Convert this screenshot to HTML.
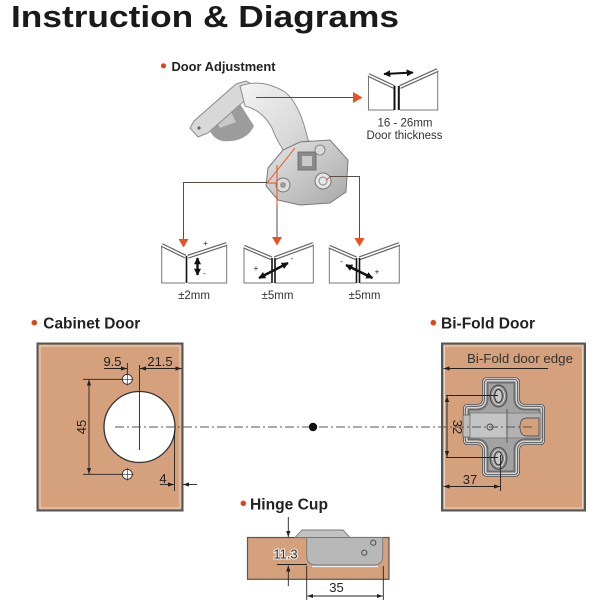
<!DOCTYPE html>
<html>
<head>
<meta charset="utf-8">
<style>
html,body{margin:0;padding:0;background:#fff;}
body{width:600px;height:600px;overflow:hidden;}
svg{display:block;font-family:"Liberation Sans",Arial,sans-serif;}
</style>
</head>
<body>
<svg width="600" height="600" viewBox="0 0 600 600" xmlns="http://www.w3.org/2000/svg">
<defs>
  <marker id="a" viewBox="0 0 10 10" refX="10" refY="5" markerWidth="6" markerHeight="6" markerUnits="userSpaceOnUse" orient="auto-start-reverse">
    <path d="M0,1.5 L10,5 L0,8.5 Z" fill="#222"/>
  </marker>
  <marker id="b" viewBox="0 0 10 10" refX="9" refY="5" markerWidth="7" markerHeight="7" markerUnits="userSpaceOnUse" orient="auto-start-reverse">
    <path d="M0,0 L10,5 L0,10 Z" fill="#111"/>
  </marker>
  <linearGradient id="m1" x1="0" y1="0" x2="1" y2="1">
    <stop offset="0" stop-color="#f4f4f4"/>
    <stop offset="0.5" stop-color="#d8d8d8"/>
    <stop offset="1" stop-color="#a4a4a4"/>
  </linearGradient>
  <linearGradient id="m2" x1="0" y1="0" x2="1" y2="1">
    <stop offset="0" stop-color="#e6e6e6"/>
    <stop offset="1" stop-color="#a8a8a8"/>
  </linearGradient>
  <path id="cross" d="M488,377 H514 Q520,377 520,383 V399 Q520,404 525,404 H540 Q545,404 545,409 V440 Q545,445 540,445 H525 Q520,445 520,450 V471 Q520,477 514,477 H488 Q482,477 482,471 V450 Q482,445 477,445 H468 Q463,445 463,440 V409 Q463,404 468,404 H477 Q482,404 482,399 V383 Q482,377 488,377 Z"/>
  <clipPath id="cc"><use href="#cross"/></clipPath>
</defs>

<!-- Title -->
<text x="11" y="27" font-size="31" font-weight="bold" fill="#1a1a1a" textLength="388" lengthAdjust="spacingAndGlyphs">Instruction &amp; Diagrams</text>

<!-- Door Adjustment header -->
<circle cx="163.5" cy="65.8" r="2.6" fill="#e0461a"/>
<text x="171.5" y="71" font-size="13" font-weight="bold" fill="#222" textLength="104" lengthAdjust="spacingAndGlyphs">Door Adjustment</text>

<!-- Hinge photo approximation -->
<g>
  <path d="M208,112 Q215,100 240,104 L254,126 Q246,143 222,141 Q205,136 208,112 Z" fill="#9c9c9c"/>
  <path d="M212,114 L230,110 L236,122 L220,128 Z" fill="#c8c8c8"/>
  <polygon points="190,128 194,121 236,84 246,81 255,86 251,95 208,133 198,137" fill="#d8d8d8" stroke="#8c8c8c" stroke-width="1"/>
  <circle cx="199" cy="128" r="1.6" fill="#666"/>
  <circle cx="245" cy="87" r="1.6" fill="#666"/>
  <circle cx="252" cy="98" r="3.5" fill="#bdbdbd" stroke="#777" stroke-width="0.8"/>
  <path d="M240,86 Q262,78 285,92 Q300,104 308,140 L345,165 L338,188 L300,170 Q280,150 272,128 Q262,110 245,106 Z" fill="url(#m1)" stroke="#8c8c8c" stroke-width="1"/>
  <path d="M268,168 L283,150 L300,142 L330,140 L348,160 L346,192 L330,203 L300,205 L278,200 L266,186 Z" fill="url(#m2)" stroke="#7a7a7a" stroke-width="1"/>
  <rect x="298" y="152" width="18" height="18" fill="#8a8a8a" stroke="#666" stroke-width="0.8"/>
  <rect x="302" y="156" width="10" height="10" fill="#c9c9c9"/>
  <circle cx="323" cy="181" r="8" fill="#e6e6e6" stroke="#777" stroke-width="1"/>
  <circle cx="323" cy="181" r="4" fill="none" stroke="#888" stroke-width="1"/>
  <circle cx="320" cy="150" r="5" fill="#dadada" stroke="#777" stroke-width="0.8"/>
  <circle cx="283" cy="185" r="7" fill="#dcdcdc" stroke="#777" stroke-width="1"/>
  <circle cx="283" cy="185" r="3" fill="#9a9a9a"/>
  <g stroke="#e2531f" stroke-width="1" fill="none">
    <line x1="295" y1="148" x2="267" y2="183"/>
    <line x1="267" y1="183" x2="277" y2="183"/>
    <line x1="277" y1="165" x2="277" y2="205"/>
    <line x1="330" y1="177" x2="326" y2="180"/>
  </g>
</g>

<!-- connectors -->
<g stroke="#5b4b45" stroke-width="1" fill="none">
  <line x1="256" y1="97.5" x2="354" y2="97.5"/>
  <polyline points="267,182.5 183.5,182.5 183.5,239"/>
  <line x1="277" y1="205" x2="277" y2="237"/>
  <polyline points="330,176.5 359.5,176.5 359.5,238"/>
</g>
<polygon points="353,92 362.5,97.5 353,103" fill="#f04e1e"/>
<polygon points="178.5,239 188.5,239 183.5,247.5" fill="#f04e1e"/>
<polygon points="272,237 282,237 277,245.5" fill="#f04e1e"/>
<polygon points="354.5,238 364.5,238 359.5,246.5" fill="#f04e1e"/>

<!-- door thickness icon -->
<g fill="none">
  <polyline points="368.5,75 368.5,110 394,110" stroke="#777" stroke-width="1"/>
  <polyline points="400,110 437.7,110 437.7,70" stroke="#777" stroke-width="1"/>
  <line x1="368.5" y1="75" x2="394" y2="87" stroke="#666" stroke-width="4"/>
  <line x1="368.5" y1="75" x2="394" y2="87" stroke="#fff" stroke-width="1.6"/>
  <line x1="400" y1="87" x2="437.7" y2="70" stroke="#666" stroke-width="4"/>
  <line x1="400" y1="87" x2="437.7" y2="70" stroke="#fff" stroke-width="1.6"/>
  <line x1="394.5" y1="86" x2="394.5" y2="110" stroke="#111" stroke-width="2"/>
  <line x1="398.8" y1="86" x2="398.8" y2="110" stroke="#111" stroke-width="2"/>
  <line x1="384" y1="74" x2="413" y2="72.5" stroke="#111" stroke-width="2" marker-start="url(#b)" marker-end="url(#b)"/>
</g>
<text x="405" y="126.7" font-size="11.5" fill="#333" text-anchor="middle">16 - 26mm</text>
<text x="404.5" y="139" font-size="11.5" fill="#333" text-anchor="middle">Door thickness</text>

<!-- icon 1 -->
<g fill="none">
  <polyline points="161.7,245 161.7,283 185,283" stroke="#777" stroke-width="1"/>
  <polyline points="188,283 226.7,283 226.7,244" stroke="#777" stroke-width="1"/>
  <line x1="161.7" y1="245" x2="185.5" y2="256.7" stroke="#666" stroke-width="4"/>
  <line x1="161.7" y1="245" x2="185.5" y2="256.7" stroke="#fff" stroke-width="1.6"/>
  <line x1="188" y1="256.7" x2="226.7" y2="244" stroke="#666" stroke-width="4"/>
  <line x1="188" y1="256.7" x2="226.7" y2="244" stroke="#fff" stroke-width="1.6"/>
  <line x1="186.5" y1="256" x2="186.5" y2="283" stroke="#111" stroke-width="1.6"/>
  <line x1="197.5" y1="258" x2="197.5" y2="275" stroke="#111" stroke-width="2.4" marker-start="url(#b)" marker-end="url(#b)"/>
</g>
<text x="205.5" y="246" font-size="8" fill="#222" text-anchor="middle">+</text>
<text x="204.5" y="276" font-size="8" fill="#222" text-anchor="middle">-</text>
<text x="194" y="299" font-size="11.5" fill="#333" text-anchor="middle">±2mm</text>

<!-- icon 2 -->
<g fill="none">
  <polyline points="244,246.7 244,283 271,283" stroke="#777" stroke-width="1"/>
  <polyline points="275,283 313.3,283 313.3,244" stroke="#777" stroke-width="1"/>
  <line x1="244" y1="246.7" x2="271.5" y2="258.3" stroke="#666" stroke-width="4"/>
  <line x1="244" y1="246.7" x2="271.5" y2="258.3" stroke="#fff" stroke-width="1.6"/>
  <line x1="274.5" y1="258.3" x2="313.3" y2="244" stroke="#666" stroke-width="4"/>
  <line x1="274.5" y1="258.3" x2="313.3" y2="244" stroke="#fff" stroke-width="1.6"/>
  <line x1="272" y1="258" x2="272" y2="283" stroke="#111" stroke-width="1.6"/>
  <line x1="275" y1="258" x2="275" y2="283" stroke="#111" stroke-width="1.6"/>
  <line x1="259" y1="278" x2="288" y2="263" stroke="#111" stroke-width="2.4" marker-start="url(#b)" marker-end="url(#b)"/>
</g>
<text x="256" y="271" font-size="8" fill="#222" text-anchor="middle">+</text>
<text x="292" y="261" font-size="8" fill="#222" text-anchor="middle">-</text>
<text x="277.5" y="299" font-size="11.5" fill="#333" text-anchor="middle">±5mm</text>

<!-- icon 3 -->
<g fill="none">
  <polyline points="329.3,246.7 329.3,283 356,283" stroke="#777" stroke-width="1"/>
  <polyline points="360,283 399.3,283 399.3,244" stroke="#777" stroke-width="1"/>
  <line x1="329.3" y1="246.7" x2="356" y2="258.3" stroke="#666" stroke-width="4"/>
  <line x1="329.3" y1="246.7" x2="356" y2="258.3" stroke="#fff" stroke-width="1.6"/>
  <line x1="359.5" y1="258.3" x2="399.3" y2="244" stroke="#666" stroke-width="4"/>
  <line x1="359.5" y1="258.3" x2="399.3" y2="244" stroke="#fff" stroke-width="1.6"/>
  <line x1="356.5" y1="258" x2="356.5" y2="283" stroke="#111" stroke-width="1.6"/>
  <line x1="359.5" y1="258" x2="359.5" y2="283" stroke="#111" stroke-width="1.6"/>
  <line x1="346" y1="265" x2="372.5" y2="278" stroke="#111" stroke-width="2.4" marker-start="url(#b)" marker-end="url(#b)"/>
</g>
<text x="341.5" y="264" font-size="8" fill="#222" text-anchor="middle">-</text>
<text x="377" y="274.5" font-size="8" fill="#222" text-anchor="middle">+</text>
<text x="364.5" y="299" font-size="11.5" fill="#333" text-anchor="middle">±5mm</text>

<!-- Section headers -->
<circle cx="34.3" cy="322.7" r="2.8" fill="#e0461a"/>
<text x="43.3" y="328.3" font-size="16" font-weight="bold" fill="#222" textLength="97" lengthAdjust="spacingAndGlyphs">Cabinet Door</text>
<circle cx="433.3" cy="322.7" r="2.8" fill="#e0461a"/>
<text x="441" y="328.3" font-size="16" font-weight="bold" fill="#222" textLength="94" lengthAdjust="spacingAndGlyphs">Bi-Fold Door</text>

<!-- Cabinet door panel -->
<rect x="37.5" y="343.5" width="145" height="167" fill="#d4a17c" stroke="#555" stroke-width="2"/>
<rect x="40" y="346" width="140" height="162" fill="none" stroke="#f3e3d3" stroke-width="0.8"/>

<!-- Bi-fold panel -->
<rect x="442" y="343.5" width="143" height="167" fill="#d4a17c" stroke="#555" stroke-width="2"/>
<rect x="444.5" y="346" width="138" height="162" fill="none" stroke="#f3e3d3" stroke-width="0.8"/>

<!-- big hole -->
<circle cx="139.5" cy="427" r="35.5" fill="#fff" stroke="#333" stroke-width="1.3"/>
<g stroke="#333" stroke-width="0.9" fill="#fff">
  <circle cx="127.3" cy="379.3" r="5"/>
  <circle cx="127.3" cy="474.3" r="5"/>
</g>
<g stroke="#333" stroke-width="0.7">
  <line x1="121" y1="379.3" x2="133.5" y2="379.3"/><line x1="127.3" y1="373" x2="127.3" y2="385.5"/>
  <line x1="121" y1="474.3" x2="133.5" y2="474.3"/><line x1="127.3" y1="468" x2="127.3" y2="480.5"/>
</g>

<!-- cabinet dimension lines -->
<g stroke="#222" stroke-width="0.9" fill="none">
  <line x1="139.5" y1="365" x2="139.5" y2="450"/>
  <line x1="127.3" y1="363" x2="127.3" y2="374"/>
  <line x1="104" y1="368.5" x2="127" y2="368.5" marker-end="url(#a)"/>
  <line x1="181.5" y1="368.5" x2="140" y2="368.5" marker-start="url(#a)" marker-end="url(#a)"/>
  <line x1="83" y1="379.3" x2="122" y2="379.3"/>
  <line x1="83" y1="474.3" x2="122" y2="474.3"/>
  <line x1="89" y1="379.5" x2="89" y2="474" marker-start="url(#a)" marker-end="url(#a)"/>
  <line x1="174.5" y1="431" x2="174.5" y2="491"/>
  <line x1="160" y1="484.5" x2="174" y2="484.5" marker-end="url(#a)"/>
  <line x1="197" y1="484.5" x2="183" y2="484.5" marker-end="url(#a)"/>
</g>
<text x="112.5" y="366" font-size="13" fill="#222" text-anchor="middle">9.5</text>
<text x="160" y="366" font-size="13" fill="#222" text-anchor="middle">21.5</text>
<text transform="translate(86,427) rotate(-90)" font-size="13" fill="#222" text-anchor="middle">45</text>
<text x="163" y="483" font-size="13" fill="#222" text-anchor="middle">4</text>

<!-- Bi-fold plate -->
<use href="#cross" fill="#a3a3a3"/>
<g clip-path="url(#cc)" fill="none">
  <use href="#cross" stroke="#6e6e6e" stroke-width="13"/>
  <use href="#cross" stroke="#d4d4d4" stroke-width="9"/>
  <use href="#cross" stroke="#6a6a6a" stroke-width="6"/>
  <use href="#cross" stroke="#dedede" stroke-width="3.5"/>
  <use href="#cross" stroke="#4a4a4a" stroke-width="1.6"/>
</g>
<rect x="463" y="415" width="7" height="22" fill="#bdbdbd" stroke="#666" stroke-width="0.8"/>
<rect x="470" y="413" width="37" height="25" fill="#c4c4c4" stroke="#777" stroke-width="0.8"/>
<rect x="507" y="413" width="34" height="25" fill="#b2b2b2" stroke="#777" stroke-width="0.8"/>
<path d="M539,418 H527 Q520,418 520,427 Q520,436 527,436 H539 Z" fill="#d4a17c" stroke="#555" stroke-width="0.9"/>
<line x1="507" y1="409" x2="507" y2="443" stroke="#555" stroke-width="0.9"/>
<circle cx="490" cy="427" r="3" fill="none" stroke="#444" stroke-width="0.9"/>
<g>
  <ellipse cx="498.5" cy="396" rx="8.5" ry="11" fill="#8a8a8a" stroke="#444" stroke-width="0.9"/>
  <ellipse cx="498.5" cy="396" rx="6" ry="8.5" fill="none" stroke="#ddd" stroke-width="0.9"/>
  <ellipse cx="498.5" cy="396" rx="3.8" ry="6.5" fill="#c8c8c8" stroke="#333" stroke-width="0.9"/>
  <ellipse cx="498.5" cy="458.3" rx="8.5" ry="11" fill="#8a8a8a" stroke="#444" stroke-width="0.9"/>
  <ellipse cx="498.5" cy="458.3" rx="6" ry="8.5" fill="none" stroke="#ddd" stroke-width="0.9"/>
  <ellipse cx="498.5" cy="458.3" rx="3.8" ry="6.5" fill="#c8c8c8" stroke="#333" stroke-width="0.9"/>
</g>

<!-- bifold dimension lines -->
<g stroke="#222" stroke-width="0.9" fill="none">
  <line x1="548" y1="368.5" x2="443.5" y2="368.5" marker-end="url(#a)"/>
  <line x1="446" y1="395.5" x2="498" y2="395.5"/>
  <line x1="446" y1="457.5" x2="498" y2="457.5"/>
  <line x1="447" y1="396" x2="447" y2="457" marker-start="url(#a)" marker-end="url(#a)"/>
  <line x1="500.5" y1="455" x2="500.5" y2="491"/>
  <line x1="443.5" y1="486.5" x2="500" y2="486.5" marker-start="url(#a)" marker-end="url(#a)"/>
</g>
<text x="467" y="363" font-size="13" fill="#333" textLength="106" lengthAdjust="spacingAndGlyphs">Bi-Fold door edge</text>
<text transform="translate(453,427) rotate(90)" font-size="13" fill="#222" text-anchor="middle">32</text>
<text x="470" y="484" font-size="13" fill="#222" text-anchor="middle">37</text>

<!-- centre dash-dot line and dot -->
<line x1="115" y1="427" x2="532" y2="427" stroke="#555" stroke-width="1" stroke-dasharray="9 3 2 3"/>
<circle cx="313" cy="427" r="4.2" fill="#111"/>

<!-- Hinge Cup -->
<circle cx="243.3" cy="503.3" r="2.8" fill="#e0461a"/>
<text x="250" y="509.3" font-size="16" font-weight="bold" fill="#222" textLength="78" lengthAdjust="spacingAndGlyphs">Hinge Cup</text>

<rect x="247.5" y="537.5" width="141.5" height="41.8" fill="#d4a17c" stroke="#555" stroke-width="1.2"/>
<polygon points="295,537.5 302,530 343,530 350,537.5" fill="#c2c2c2" stroke="#777" stroke-width="0.9"/>
<path d="M306.7,537.5 L382.7,537.5 L382.7,556 Q382.7,565 373.5,565 L316,565 Q306.7,565 306.7,556 Z" fill="#b8b8b8" stroke="#777" stroke-width="0.9"/>
<line x1="312" y1="566.5" x2="378" y2="566.5" stroke="#eee" stroke-width="1.2"/>
<circle cx="373.3" cy="542.7" r="2.6" fill="none" stroke="#444" stroke-width="0.9"/>
<circle cx="364.3" cy="552.7" r="2.6" fill="none" stroke="#444" stroke-width="0.9"/>

<g stroke="#222" stroke-width="0.9" fill="none">
  <line x1="277" y1="564.5" x2="307" y2="564.5"/>
  <line x1="288.3" y1="517" x2="288.3" y2="537" marker-end="url(#a)"/>
  <line x1="288.3" y1="586" x2="288.3" y2="565.5" marker-end="url(#a)"/>
  <line x1="306.7" y1="566" x2="306.7" y2="600"/>
  <line x1="383.3" y1="566" x2="383.3" y2="600"/>
  <line x1="307.2" y1="596" x2="382.8" y2="596" marker-start="url(#a)" marker-end="url(#a)"/>
</g>
<text x="285.5" y="558.5" font-size="13" fill="#333" text-anchor="middle" stroke="#f6efe8" stroke-width="2" paint-order="stroke">11.3</text>
<text x="336.5" y="592" font-size="13" fill="#222" text-anchor="middle">35</text>
</svg>
</body>
</html>
